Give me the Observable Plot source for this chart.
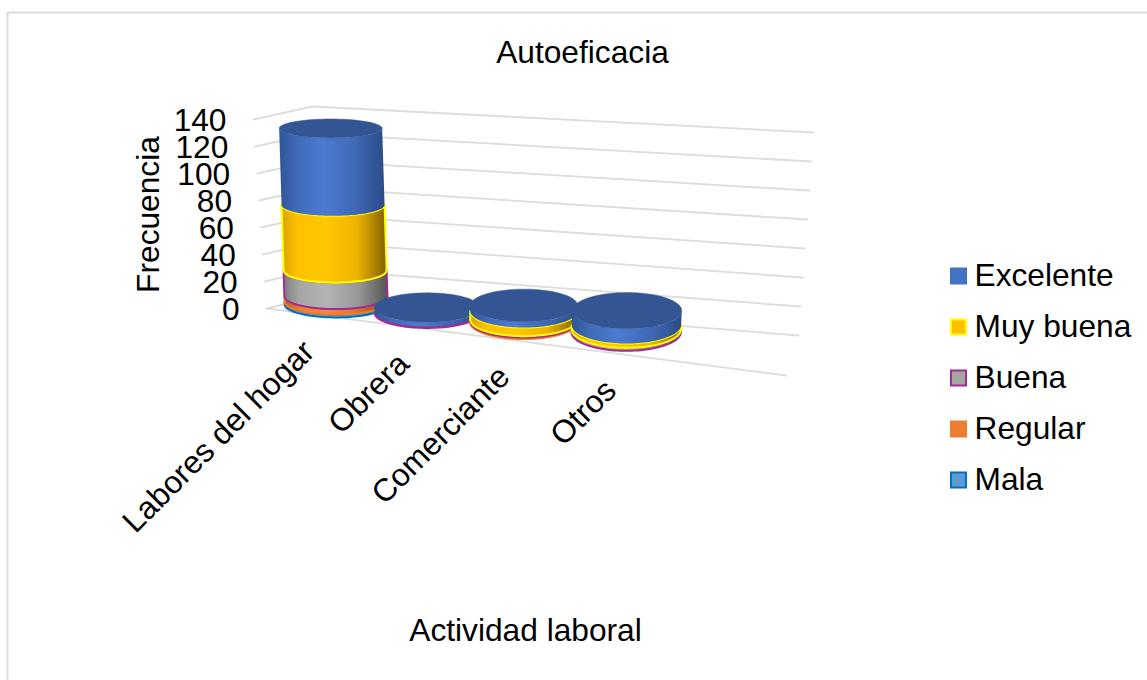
<!DOCTYPE html>
<html><head><meta charset="utf-8">
<style>html,body{margin:0;padding:0;background:#fff;overflow:hidden}svg{display:block}</style>
<script src="https://cdn.jsdelivr.net/npm/d3@7"></script>
<script src="https://cdn.jsdelivr.net/npm/@observablehq/plot@0.6"></script>
</head><body><div id="chart"></div>
<script>
const categories = ["Labores del hogar", "Obrera", "Comerciante", "Otros"];
const mala      = [2, 0, 0, 0];
const regular   = [4, 0, 1, 0];
const buena     = [19, 1, 1, 2];
const muyBuena  = [48, 0, 6, 3];
const excelente = [56, 3, 4, 10];
const yTicks = [0, 20, 40, 60, 80, 100, 120, 140];

const seriesNames = ["Mala", "Regular", "Buena", "Muy buena", "Excelente"];
const seriesValues = [mala, regular, buena, muyBuena, excelente];
const seriesStroke = ["#0070c0", "#ed7d31", "#a02b93", "#ffff00", "none"];
const seriesFill = ["#5b9bd5", "#ed7d31", "#a5a5a5", "#ffc000", "#4472c4"];
const stops = [
  ["#3f7cb5", "#5b9bd5", "#66a5de", "#5b9bd5", "#35648f"],
  ["#b35e24", "#ed7d31", "#f58a3c", "#d9722c", "#8a481c"],
  ["#7d7d7d", "#a5a5a5", "#b4b4b4", "#979797", "#555555"],
  ["#d9a300", "#ffc000", "#ffc800", "#eeb300", "#7f6000"],
  ["#2f5597", "#3f69b6", "#4b7bd2", "#3f69b6", "#2b4c88"]
];

// Perspective box of the 3-D chart: corners of the floor and of the 140 plane.
const slots = 5, vMax = 140, rU = 0.106, depthY = 0.31, depthX = 0.46, persp = 0.16;
const corners = {
  floor: {bl:[316,296], br:[798,335], fr:[786,375], fl:[266,308]},
  top:   {bl:[312,106], br:[813,132], fr:[805,168], fl:[253,119]}
};
const mix = (a, b, k) => [a[0]+(b[0]-a[0])*k, a[1]+(b[1]-a[1])*k];
const fore = u => u / (1 + persp * (1 - u));
function plane(c, u, w) {
  const f = fore(u);
  return mix(mix(c.bl, c.br, f), mix(c.fl, c.fr, f), w);
}
function project(u, w, v) {
  const p = mix(plane(corners.floor, u, w), plane(corners.top, u, w), v / vMax);
  return {x: p[0], y: p[1]};
}
// Upright ellipse of a cylinder at stacked height v
function rim(i, v, ts) {
  const u = (i + .5) / slots;
  const cx = project(u, depthX, v).x - 1, cy = project(u, depthY, v).y;
  const c0 = corners.floor;
  const span = plane(c0, 1, .5)[0] - plane(c0, 0, .5)[0];
  const rx = span * rU * (0.96 + 0.1 * u);
  const depth = plane(c0, u, 1)[1] - plane(c0, u, 0)[1];
  const ry = (0.35 * depth + 8) * (1 - 0.3 * v / vMax);
  return ts.map(t => ({x: cx + rx * Math.cos(t), y: cy + ry * Math.sin(t)}));
}
const angles = d3.range(0, 61).map(i => Math.PI * i / 60);
const band = (i, v0, v1) => [...rim(i, v0, angles), ...rim(i, v1, angles).reverse()];
const capAngles = d3.range(0, 72).map(i => i / 72 * 2 * Math.PI);

const defs = () => {
  const s = d3.create("svg:defs");
  stops.forEach((st, k) => {
    const g = s.append("linearGradient").attr("id", "g" + k);
    [0, .15, .42, .72, 1].forEach((o, j) => g.append("stop").attr("offset", o).attr("stop-color", st[j]));
  });
  return s.node();
};

const ink = "#000", gridColor = "#dcdcdc", font = 31.7;
const marks = [defs];

// frame
marks.push(Plot.line([{x:1147,y:12},{x:7,y:12},{x:7,y:680}], {x:"x", y:"y", stroke:gridColor, strokeWidth:2}));
// walls
for (const v of yTicks)
  marks.push(Plot.line([project(0,1,v), project(0,0,v), project(1,0,v)], {x:"x", y:"y", stroke:gridColor, strokeWidth:1.8}));
marks.push(Plot.line([project(0,1,0), project(1,1,0)], {x:"x", y:"y", stroke:gridColor, strokeWidth:1.8}));

// cylinders
categories.forEach((_, i) => {
  let base = 0;
  seriesValues.forEach((vals, k) => {
    const val = vals[i];
    if (!val) return;
    const top = base + val;
    marks.push(Plot.line(band(i, base, top), {x:"x", y:"y", curve:"linear-closed",
      fill:`url(#g${k})`, stroke:seriesStroke[k], strokeWidth:2}));
    base = top;
  });
  marks.push(Plot.line(rim(i, base, capAngles), {x:"x", y:"y", curve:"linear-closed", fill:"#335593", stroke:"#335593", strokeWidth:.5}));
});

// value axis
marks.push(Plot.text(yTicks, {x:v => project(0,1,v).x, y:v => project(0,1,v).y, text:v => String(v),
  textAnchor:"end", dx:-27, dy:1.5, fontSize:font, fill:ink}));
// category axis
marks.push(Plot.text(categories, {x:(d,i) => project((i+.5)/slots,1,0).x, y:(d,i) => project((i+.5)/slots,1,0).y,
  text:d => d, rotate:-45, textAnchor:"end", dx:-3, dy:32, fontSize:font, fill:ink}));
// titles
marks.push(Plot.text(["Autoeficacia"], {x:()=>582, y:()=>52, text:d=>d, fontSize:font, fill:ink}));
marks.push(Plot.text(["Actividad laboral"], {x:()=>525, y:()=>630, text:d=>d, fontSize:font, fill:ink}));
marks.push(Plot.text(["Frecuencia"], {x:()=>148, y:()=>214, text:d=>d, rotate:-90, fontSize:font, fill:ink}));
// legend
const legend = seriesNames.map((n, k) => ({n, k, y: 275.5 + (4-k)*51})).reverse();
marks.push(Plot.dot(legend, {x:()=>958, y:"y", symbol:"square", r:8.5, fill:d=>seriesFill[d.k],
  stroke:d=>seriesStroke[d.k]==="none"?seriesFill[d.k]:seriesStroke[d.k], strokeWidth:2}));
marks.push(Plot.text(legend, {x:()=>974, y:"y", text:"n", textAnchor:"start", fontSize:font, fill:ink}));

const chart = Plot.plot({
  width:1147, height:680, margin:0,
  style:{fontFamily:"'Liberation Sans', Arial, sans-serif", background:"#fff"},
  x:{type:"identity", axis:null}, y:{type:"identity", axis:null},
  marks
});
document.getElementById("chart").append(chart);
</script></body></html>
